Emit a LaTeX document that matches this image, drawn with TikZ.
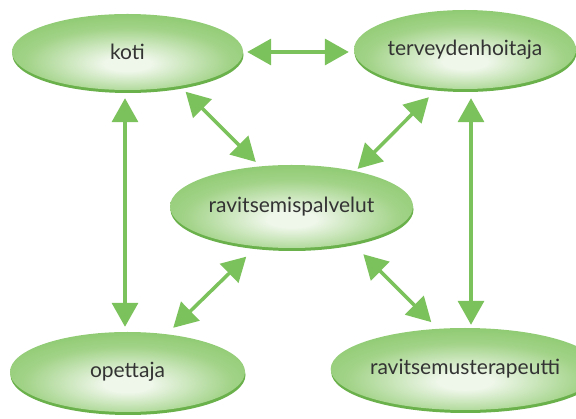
\documentclass[tikz,border=0pt]{standalone}
\usepackage{fontspec}
\setmainfont{Lato}
\usetikzlibrary{arrows.meta,shapes.geometric,shadows}
\definecolor{gedge}{HTML}{7CC25C}
\definecolor{gmid}{HTML}{A2D388}
\definecolor{glight}{HTML}{EFF7EA}
\definecolor{grim}{HTML}{6AB04B}
\definecolor{garrow}{HTML}{7CC25C}
\definecolor{gtext}{HTML}{333333}
\pgfdeclareradialshading{ellshade}{\pgfpoint{0bp}{-8bp}}{color(0bp)=(glight); color(5bp)=(glight); color(22bp)=(gmid); color(40bp)=(gedge); color(100bp)=(gedge)}
\begin{document}
\begin{tikzpicture}[x=1pt,y=-1pt,
  bubble/.style={ellipse, inner sep=0pt, shading=ellshade,
    general shadow={fill=grim, shadow yshift=-3pt, shadow xshift=0.5pt},
    font=\fontsize{21}{24}\selectfont, text=gtext},
  arr/.style={draw=garrow, line width=3.5pt,
    {Triangle[width=26pt,length=24pt]}-{Triangle[width=26pt,length=24pt]}}]
\useasboundingbox (0,0) rectangle (576,419);
\node[bubble, minimum width=231pt, minimum height=76pt] (koti) at (127.5,52) {koti};
\node[bubble, minimum width=222pt, minimum height=79pt] (terv) at (465,49.5) {terveydenhoitaja};
\node[bubble, minimum width=243pt, minimum height=83pt] (rav) at (291.5,206.5) {ravitsemispalvelut};
\node[bubble, minimum width=235pt, minimum height=80pt] (ope) at (127.5,372) {opettaja};
\node[bubble, minimum width=222pt, minimum height=82pt] (ter) at (465,369) {ravitsemusterapeutti};

\draw[arr, shorten <=4pt, shorten >=5pt] (koti.east) -- (koti.east -| terv.west);
\draw[arr, shorten <=8pt, shorten >=5pt] ([xshift=-2.5pt]koti.south) -- ([xshift=-2.5pt]ope.north);
\draw[arr, shorten <=9pt, shorten >=3pt] ([xshift=6pt]terv.south) -- ([xshift=6pt]ter.north);
\draw[arr, shorten <=8pt, shorten >=6pt] (koti.-33) -- (rav.128);
\draw[arr, shorten <=13pt, shorten >=3pt] (terv.235) -- (rav.29);
\draw[arr, shorten <=14.6pt, shorten >=9pt] (rav.229) -- (ope.44);
\draw[arr, shorten <=16.3pt, shorten >=9.2pt] (rav.-31) -- (ter.124.5);
\end{tikzpicture}
\end{document}
